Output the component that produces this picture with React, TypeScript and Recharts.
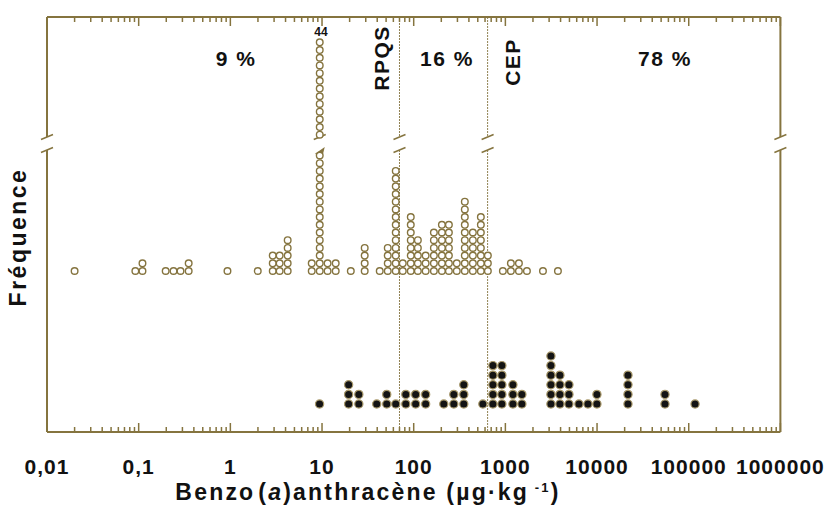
import { Customized, ReferenceLine, Scatter, ScatterChart, XAxis, YAxis } from "recharts";

// sediments, open circles (upper row): value (µg/kg) and number of samples
const openValues = [
  0.02, 0.092, 0.11, 0.197, 0.24, 0.286, 0.351, 0.93, 1.99, 2.9, 3.45, 4.22, 7.72, 9.44, 11.5, 14.1, 20.6,
  29.2, 42.6, 52.1, 63.7, 76, 92.9, 111, 135, 166, 203, 242, 295, 361, 442, 540, 644, 939, 1148, 1405,
  1718, 2570, 3743,
];
const openCounts = [
  1, 1, 2, 1, 1, 1, 2, 1, 1, 3, 3, 5, 2, 44, 2, 2, 1, 4, 1, 4, 14, 2, 8, 5, 3, 6, 7, 7, 2, 10, 6, 8, 3, 1,
  2, 2, 1, 1, 1,
];

// filled circles (lower row)
const filledValues = [
  9.4, 19.5, 25.2, 39.5, 50.8, 63.7, 82, 105, 135, 213, 274, 352, 568, 731, 916, 1208, 1514, 3139, 3936,
  4936, 6343, 7955, 9970, 21740, 55080, 117200,
];
const filledCounts = [1, 3, 2, 1, 2, 1, 2, 2, 2, 1, 2, 3, 1, 5, 5, 3, 2, 6, 4, 3, 1, 1, 2, 4, 2, 1];

const majorTicks = [0.01, 0.1, 1, 10, 100, 1000, 10000, 100000, 1000000];
const tickLabels = ["0,01", "0,1", "1", "10", "100", "1000", "10000", "100000", "1000000"];

const RPQS = 70;
const CEP = 640;
const shares = ["9 %", "16 %", "78 %"];

const OLIVE = "#85743f";
const FONT = "'Liberation Sans', Arial, sans-serif";
const BREAK_TOP = 137;
const BREAK_BOTTOM = 150;
const BELOW_BREAK = 16; // dots drawn under the break in the tall column
const ABOVE_BREAK = 13;

const allTicks = majorTicks.flatMap((m, i) =>
  i < majorTicks.length - 1 ? [m, 2, 3, 4, 5, 6, 7, 8, 9].map((k, j) => (j === 0 ? m : m * k)) : [m]
);

const stack = (values: number[], counts: number[], cut = false) =>
  values.flatMap((v, i) => {
    const n = counts[i];
    const pts: { x: number; y: number }[] = [];
    if (cut && n > 30) {
      for (let k = 1; k <= BELOW_BREAK; k++) pts.push({ x: v, y: k });
      for (let k = n - ABOVE_BREAK + 1; k <= n; k++) pts.push({ x: v, y: k - 13.3 });
    } else {
      for (let k = 1; k <= n; k++) pts.push({ x: v, y: k });
    }
    return pts;
  });

const openData = stack(openValues, openCounts, true);
const filledData = stack(filledValues, filledCounts);
const tallValue = openValues[openCounts.indexOf(Math.max(...openCounts))];

const majorIndex = (v: number) => majorTicks.findIndex((m) => Math.abs(m - v) / m < 1e-6);

const BottomTick = ({ x, y, payload }: any) => {
  const i = majorIndex(payload.value);
  return (
    <g>
      <line x1={x} x2={x} y1={y} y2={y - (i >= 0 ? 9 : 5)} stroke={OLIVE} strokeWidth={1.5} />
      {i >= 0 && (
        <text x={x} y={y + 42} textAnchor="middle" fontFamily={FONT} fontWeight="bold" fontSize={21} letterSpacing={1} fill="#111">
          {tickLabels[i]}
        </text>
      )}
    </g>
  );
};

const TopTick = ({ x, y, payload }: any) => {
  const i = majorIndex(payload.value);
  return <line x1={x} x2={x} y1={y} y2={y + (i >= 0 ? 9 : 5)} stroke={OLIVE} strokeWidth={1.5} />;
};

const slash = (x: number, y: number, color: string) => (
  <line x1={x - 6} y1={y + 2.5} x2={x + 6} y2={y - 2.5} stroke={color} strokeWidth={1.5} />
);

const brokenLine = (dash?: string, width = 2) => (props: any) => {
  const { x1, y1, y2 } = props;
  const top = Math.min(y1, y2);
  const bottom = Math.max(y1, y2);
  return (
    <g>
      <line x1={x1} x2={x1} y1={top} y2={BREAK_TOP} stroke={OLIVE} strokeWidth={width} strokeDasharray={dash} />
      <line x1={x1} x2={x1} y1={BREAK_BOTTOM} y2={bottom} stroke={OLIVE} strokeWidth={width} strokeDasharray={dash} />
      {slash(x1, BREAK_TOP, OLIVE)}
      {slash(x1, BREAK_BOTTOM, OLIVE)}
    </g>
  );
};

const columnBreak = (props: any) => {
  const { x1 } = props;
  return (
    <g>
      {slash(x1, BREAK_TOP, OLIVE)}
      <polygon points={`${x1 - 5},${BREAK_BOTTOM + 4} ${x1 + 5},${BREAK_BOTTOM - 3} ${x1 + 3},${BREAK_BOTTOM + 5}`} fill={OLIVE} />
    </g>
  );
};

const OpenDot = (p: any) => <circle cx={p.cx} cy={p.cy} r={3.3} fill="#fff" stroke={OLIVE} strokeWidth={1.4} />;
const FilledDot = (p: any) => <circle cx={p.cx} cy={p.cy} r={4.1} fill="#141414" stroke="#a8986a" strokeWidth={1.2} />;

const Texts = () => (
  <g fontFamily={FONT} fontWeight="bold" fill="#111">
    <text x={18} y={237} transform="rotate(-90 18 237)" textAnchor="middle" dominantBaseline="central" fontSize={23} letterSpacing={2.5}>
      Fréquence
    </text>
    <text x={368} y={500} textAnchor="middle" fontSize={23} letterSpacing={2.2}>
      Benzo<tspan dx={3}>(</tspan>
      <tspan fontStyle="italic">a</tspan>)anthracène (µg·kg
      <tspan fontSize={13} dy={-8}> -1</tspan>
      <tspan dy={8}>)</tspan>
    </text>
    <text x={236} y={66} textAnchor="middle" fontSize={21} letterSpacing={1.5}>{shares[0]}</text>
    <text x={447} y={66} textAnchor="middle" fontSize={21} letterSpacing={1.5}>{shares[1]}</text>
    <text x={665} y={66} textAnchor="middle" fontSize={21} letterSpacing={1.5}>{shares[2]}</text>
    <text x={381} y={58} transform="rotate(-90 381 58)" textAnchor="middle" dominantBaseline="central" fontSize={21} letterSpacing={1.5}>
      RPQS
    </text>
    <text x={512} y={62} transform="rotate(-90 512 62)" textAnchor="middle" dominantBaseline="central" fontSize={21} letterSpacing={1.5}>
      CEP
    </text>
    <text x={321} y={36} textAnchor="middle" fontSize={12}>44</text>
  </g>
);

export default function App() {
  return (
    <div style={{ position: "fixed", left: 0, top: 0, background: "#fff" }}>
      <ScatterChart width={834} height={510} margin={{ top: 16, right: 53.6, bottom: 0, left: 47 }}>
        <XAxis
          dataKey="x"
          type="number"
          scale="log"
          domain={[0.01, 1000000]}
          ticks={allTicks}
          interval={0}
          height={78}
          tickLine={false}
          tickSize={0}
          tickMargin={0}
          axisLine={{ stroke: OLIVE, strokeWidth: 2 }}
          tick={<BottomTick />}
          allowDataOverflow
        />
        <XAxis
          xAxisId="top"
          orientation="top"
          dataKey="x"
          type="number"
          scale="log"
          domain={[0.01, 1000000]}
          ticks={allTicks}
          interval={0}
          height={1}
          tickLine={false}
          tickSize={0}
          tickMargin={0}
          axisLine={{ stroke: OLIVE, strokeWidth: 2 }}
          tick={<TopTick />}
          allowDataOverflow
        />
        <YAxis yAxisId="up" dataKey="y" type="number" domain={[-19.91, 33.99]} hide allowDataOverflow />
        <YAxis yAxisId="low" dataKey="y" type="number" domain={[-1.917, 41.31]} hide allowDataOverflow />
        <ReferenceLine x={0.01} yAxisId="up" ifOverflow="visible" shape={brokenLine()} />
        <ReferenceLine x={1000000} yAxisId="up" ifOverflow="visible" shape={brokenLine()} />
        <ReferenceLine x={RPQS} yAxisId="up" ifOverflow="visible" shape={brokenLine("2 1", 0.9)} />
        <ReferenceLine x={CEP} yAxisId="up" ifOverflow="visible" shape={brokenLine("2 1", 0.9)} />
        <Scatter data={filledData} yAxisId="low" shape={FilledDot} isAnimationActive={false} />
        <Scatter data={openData} yAxisId="up" shape={OpenDot} isAnimationActive={false} />
        <ReferenceLine x={tallValue} yAxisId="up" ifOverflow="visible" shape={columnBreak} />
        <Customized component={<Texts />} />
      </ScatterChart>
    </div>
  );
}
